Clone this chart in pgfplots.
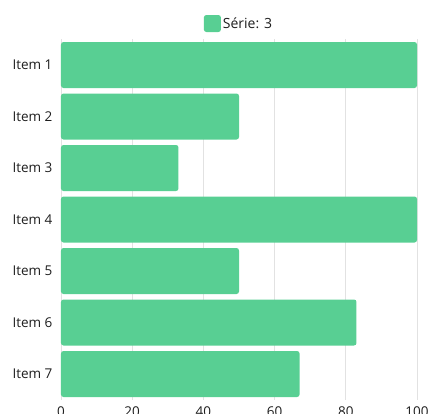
\documentclass[border=0pt]{standalone}
\usepackage{pgfplots}
\pgfplotsset{compat=1.18}
\usepackage{fontspec}
\setmainfont{Open Sans}
\definecolor{barGreen}{RGB}{88,207,147}
\definecolor{gridGray}{RGB}{226,226,226}
\definecolor{labelGray}{RGB}{30,30,30}
\begin{document}
\begin{tikzpicture}
\path[use as bounding box, clip] (-61bp,-14.25bp) rectangle (369bp,399.75bp);
\begin{axis}[
  scale only axis,
  width=356bp, height=360.5bp,
  xbar, bar width=46bp,
  xmin=0, xmax=100,
  ymin=0.5, ymax=7.5,
  y dir=reverse,
  axis line style={draw=none},
  xtick={0,20,40,60,80,100},
  ytick={1,2,3,4,5,6,7},
  yticklabels={Item 1,Item 2,Item 3,Item 4,Item 5,Item 6,Item 7},
  major tick length=0pt,
  xmajorgrids,
  grid style={gridGray, line width=0.8bp},
  /pgf/number format/assume math mode=true,
  ticklabel style={font=\fontsize{13.5bp}{16bp}\selectfont, text=labelGray},
  yticklabel style={xshift=-5bp},
  xticklabel style={yshift=-3bp},
  legend style={draw=none, at={(0.5,1.0437)}, anchor=center,
    font=\fontsize{14bp}{16bp}\selectfont, text=labelGray,
    inner sep=0pt},
  legend image code/.code={\fill[barGreen] (0bp,-8.5bp) rectangle (17bp,8.5bp);},
]
\addplot[fill=barGreen, draw=none, rounded corners=2.5bp]
  coordinates {(100,1) (50,2) (33,3) (100,4) (50,5) (83,6) (67,7)};
\addlegendentry{Série: 3}
\end{axis}
\end{tikzpicture}
\end{document}
